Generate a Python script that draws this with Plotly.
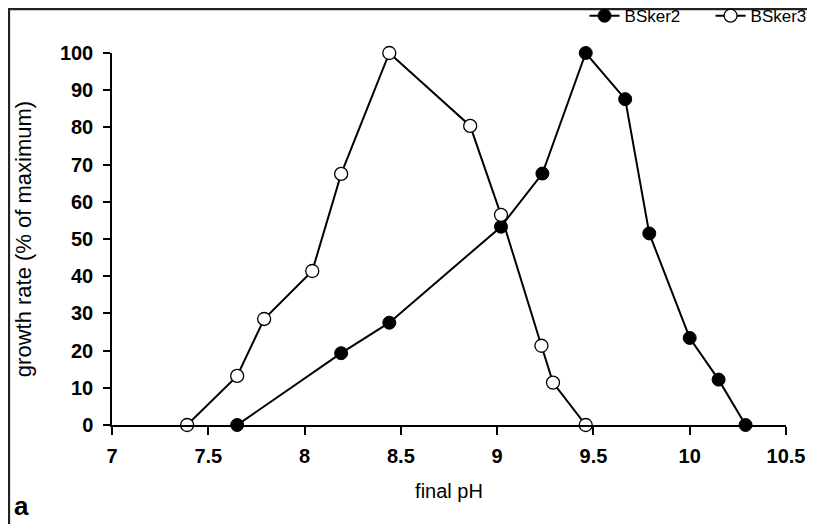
import plotly.graph_objects as go

# BSker2 (filled circles)
ph_bsker2 = [7.65, 8.19, 8.44, 9.02, 9.235, 9.46, 9.665, 9.79, 10.0, 10.15, 10.29]
rate_bsker2 = [0, 19.3, 27.5, 53.3, 67.6, 100, 87.6, 51.5, 23.4, 12.2, 0]

# BSker3 (open circles)
ph_bsker3 = [7.39, 7.65, 7.79, 8.04, 8.19, 8.44, 8.86, 9.02, 9.23, 9.29, 9.46]
rate_bsker3 = [0, 13.2, 28.5, 41.4, 67.5, 100, 80.4, 56.5, 21.3, 11.4, 0]

x_ticks = [7, 7.5, 8, 8.5, 9, 9.5, 10, 10.5]
x_ticklabels = ["7", "7.5", "8", "8.5", "9", "9.5", "10", "10.5"]
y_ticks = list(range(0, 101, 10))

fig = go.Figure()
fig.add_trace(go.Scatter(
    x=ph_bsker2, y=rate_bsker2, name="BSker2", mode="lines+markers",
    line=dict(color="black", width=2),
    marker=dict(symbol="circle", size=13, color="black", line=dict(color="black", width=1)),
    cliponaxis=False,
))
fig.add_trace(go.Scatter(
    x=ph_bsker3, y=rate_bsker3, name="BSker3", mode="lines+markers",
    line=dict(color="black", width=2),
    marker=dict(symbol="circle", size=13, color="white", line=dict(color="black", width=1.3)),
    cliponaxis=False,
))

fig.update_layout(
    width=807, height=516,
    margin=dict(l=104, r=29, t=45, b=99, autoexpand=False),
    paper_bgcolor="white", plot_bgcolor="white",
    font=dict(family="Arial, Liberation Sans, sans-serif", color="black"),
    showlegend=True,
    legend=dict(orientation="h", xref="paper", yref="paper",
                x=1.075, xanchor="right", y=1.099, yanchor="middle",
                font=dict(size=17), bgcolor="rgba(0,0,0,0)", itemwidth=30,
                entrywidth=81, entrywidthmode="pixels",
                tracegroupgap=0),
    xaxis=dict(
        range=[7, 10.5], tickvals=x_ticks, ticktext=x_ticklabels, automargin=False,
        showgrid=False, zeroline=False, showline=True, linecolor="black", linewidth=1.5,
        ticks="outside", ticklen=8, tickwidth=1.5, tickcolor="black",
        tickfont=dict(size=20, weight="bold"), ticklabelstandoff=4,
        title=dict(text="final pH", font=dict(size=20), standoff=18),
    ),
    yaxis=dict(
        range=[0, 100], tickvals=y_ticks, automargin=False,
        showgrid=False, zeroline=False, showline=True, linecolor="black", linewidth=1.5,
        ticks="outside", ticklen=7, tickwidth=1.5, tickcolor="black",
        tickfont=dict(size=20, weight="bold"), ticklabelstandoff=6,
        title=dict(text="growth rate (% of maximum)", font=dict(size=22), standoff=22),
    ),
    shapes=[dict(type="rect", xref="paper", yref="paper",
                 x0=-0.153, x1=1.2, y0=-0.3, y1=1.118,
                 line=dict(color="#222", width=2.5), fillcolor="rgba(0,0,0,0)", layer="below")],
    annotations=[dict(text="<b>a</b>", xref="paper", yref="paper", x=-0.149, y=-0.219,
                      xanchor="left", yanchor="middle", showarrow=False,
                      font=dict(size=26))],
)

fig.write_html("out.html")
